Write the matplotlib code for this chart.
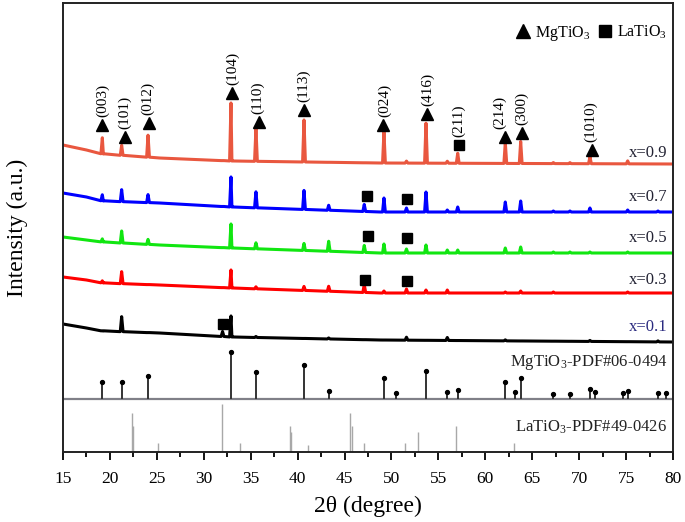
import numpy as np
import matplotlib
matplotlib.use("Agg")
import matplotlib.pyplot as plt
from matplotlib.lines import Line2D

plt.rcParams['font.family'] = ['Liberation Serif', 'DejaVu Serif']
plt.rcParams['mathtext.fontset'] = 'custom'
plt.rcParams['mathtext.rm'] = 'Liberation Serif'
plt.rcParams['mathtext.it'] = 'Liberation Serif:italic'

# ---------------- data ----------------
series_labels = ["x=0.9", "x=0.7", "x=0.5", "x=0.3", "x=0.1"]
series_colors = ["#e9573f", "#0000ff", "#11e611", "#ff0000", "#000000"]
label_colors = ["#222233", "#222233", "#222233", "#222233", "#2b2b80"]

base_x = [15, 17.5, 19.3, 25.3, 33, 48.8, 80]
base_09 = [307, 302, 298, 294, 291, 289, 288]
base_07 = [259, 255, 251, 249, 245, 240, 240]
base_05 = [215, 212, 210, 207, 204, 199, 199]
base_03 = [175, 172, 169, 167, 164, 159, 159]
base_01 = [128, 124, 121, 119, 115, 112, 110]

peak_pos = [19.19, 21.25, 24.06, 32.0, 32.90, 35.56, 40.68, 43.31, 47.1, 49.20,
            51.6, 53.68, 55.95, 57.06, 62.13, 63.77, 67.25, 69.02, 71.15, 75.17, 78.4]
peak_09 = [16, 10, 22, 0, 58, 33, 42, 0, 0, 31, 2, 40, 2, 10, 21, 22, 1, 1, 7, 3, 0]
peak_07 = [6, 12, 8, 0, 30, 16, 19, 5, 7, 14, 4, 20, 2, 5, 10, 11, 1, 1, 4, 2, 1]
peak_05 = [3, 12, 5, 0, 24, 6, 7, 10, 7, 9, 4, 8, 3, 3, 5, 6, 1, 1, 1, 1, 0]
peak_03 = [2, 12, 0, 0, 18, 2, 4, 5, 8, 2, 4, 3, 3, 0, 1, 2, 1, 0, 0, 1, 0]
peak_01 = [0, 15, 0, 5, 21, 1, 0, 1, 0, 0, 3, 0, 3, 0, 1, 0, 0, 0, 1, 0, 1]

baselines = [base_09, base_07, base_05, base_03, base_01]
peaks = [peak_09, peak_07, peak_05, peak_03, peak_01]
label_y = [299, 255, 214, 172, 125]

# MgTiO3 (hkl) annotations on x=0.9 curve
hkl_labels = ["(003)", "(101)", "(012)", "(104)", "(110)", "(113)",
              "(024)", "(416)", "(214)", "(300)", "(1010)"]
hkl_x = [19.16, 21.6, 24.16, 33.0, 35.88, 40.68, 49.1, 53.79, 62.1, 63.9, 71.37]
hkl_y = [327, 315, 329, 359, 330, 342, 327, 338, 315, 319, 302]
hkl_text_x = [19.19, 21.6, 24.06, 33.05, 35.77, 40.68, 49.3, 53.9, 61.56, 63.9, 71.26]

# LaTiO3 markers
la_label = "(211)"
la_x = [57.2, 47.39, 51.65, 47.5, 51.65, 47.18, 51.65, 32.05]
la_y = [307, 256, 253, 216, 214, 172, 171, 128]

# reference patterns
mg_pos = [19.19, 21.25, 24.06, 32.90, 35.56, 40.68, 43.31, 49.20, 50.48, 53.68,
          55.95, 57.06, 62.13, 63.19, 63.77, 67.25, 69.02, 71.15, 71.65, 74.67,
          75.17, 78.43, 79.22]
mg_int = [17, 17, 23, 47, 27, 34, 8, 21, 6, 28, 7, 9, 17, 7, 21, 5, 5, 10, 7, 6, 8, 6, 6]
la_pos = [22.3, 22.45, 25.09, 31.98, 33.9, 39.2, 39.3, 41.07, 45.62, 45.83, 47.1,
          51.44, 52.86, 56.87, 63.06]
la_int = [39, 26, 9, 48, 9, 26, 20, 7, 39, 26, 9, 9, 20, 26, 9]
mg_base = 53

x_ticks = [15, 20, 25, 30, 35, 40, 45, 50, 55, 60, 65, 70, 75, 80]

# ---------------- plot ----------------
fig = plt.figure(figsize=(6.85, 5.22), dpi=100)
ax = fig.add_axes([63 / 685, 1 - 452 / 522, 610 / 685, 449 / 522])
ax.set_xlim(15, 80)
ax.set_ylim(0, 449)

hw = 0.15
for base, pk, col in zip(baselines, peaks, series_colors):
    xs = list(base_x)
    ys = list(base)
    bp = np.interp(peak_pos, base_x, base)
    for p, h, b in zip(peak_pos, pk, bp):
        xs += [p - hw, p, p + hw]
        ys += [b, b + h, b]
    order = np.argsort(xs, kind="stable")
    ax.plot(np.array(xs)[order], np.array(ys)[order], color=col, lw=2.2,
            solid_joinstyle='round')

for lab, ly, lc in zip(series_labels, label_y, label_colors):
    ax.text(79.4, ly, lab, ha='right', va='center', fontsize=12, color=lc)

# hkl triangles and labels
ax.plot(hkl_x, hkl_y, ls='none', marker='^', ms=9, color='black')
for t, tx, ty in zip(hkl_labels, hkl_text_x, hkl_y):
    ax.text(tx, ty + 8, t, rotation=90, ha='center', va='bottom', fontsize=11)
ax.plot(la_x, la_y, ls='none', marker='s', ms=6.5, color='black')
ax.text(la_x[0], la_y[0] + 8, la_label, rotation=90, ha='center', va='bottom', fontsize=11)

# reference sticks
ax.axhline(mg_base, color='#808088', lw=1.6)
ax.vlines(mg_pos, mg_base, [mg_base + v for v in mg_int], color='#333333', lw=1.4)
ax.plot(mg_pos, [mg_base + v for v in mg_int], ls='none', marker='o', ms=2.8,
        color='black')
ax.vlines(la_pos, 0, la_int, color='#a8a8a8', lw=1.0)
ax.text(79.4, 90, r"MgTiO$_3$-PDF#06-0494", ha='right', va='center', fontsize=12,
        color='#222222')
ax.text(79.4, 25, r"LaTiO$_3$-PDF#49-0426", ha='right', va='center', fontsize=12,
        color='#222222')

# legend
handles = [Line2D([], [], ls='none', marker='^', ms=10, color='black'),
           Line2D([], [], ls='none', marker='s', ms=8, color='black')]
ax.legend(handles, [r"MgTiO$_3$", r"LaTiO$_3$"], loc='upper right', ncol=2,
          frameon=False, fontsize=11.5, handlelength=0.9, handletextpad=0.3,
          columnspacing=0.5, bbox_to_anchor=(1.006, 0.975), borderaxespad=0.2)

ax.set_xticks(x_ticks)
ax.set_xticks(np.arange(17.5, 80, 5), minor=True)
ax.tick_params(axis='x', which='major', direction='out', length=6, width=1.3,
               labelsize=12.5, pad=8)
ax.tick_params(axis='x', which='minor', direction='out', length=3.5, width=1.3)
ax.set_yticks([])
for s in ax.spines.values():
    s.set_linewidth(1.4)
    s.set_color('#222222')

ax.set_xlabel("2θ (degree)", fontsize=17)
ax.xaxis.set_label_coords(0.5, -0.098)
ax.set_ylabel("Intensity (a.u.)", fontsize=17, labelpad=25)

fig.savefig("out.png", dpi=100)
